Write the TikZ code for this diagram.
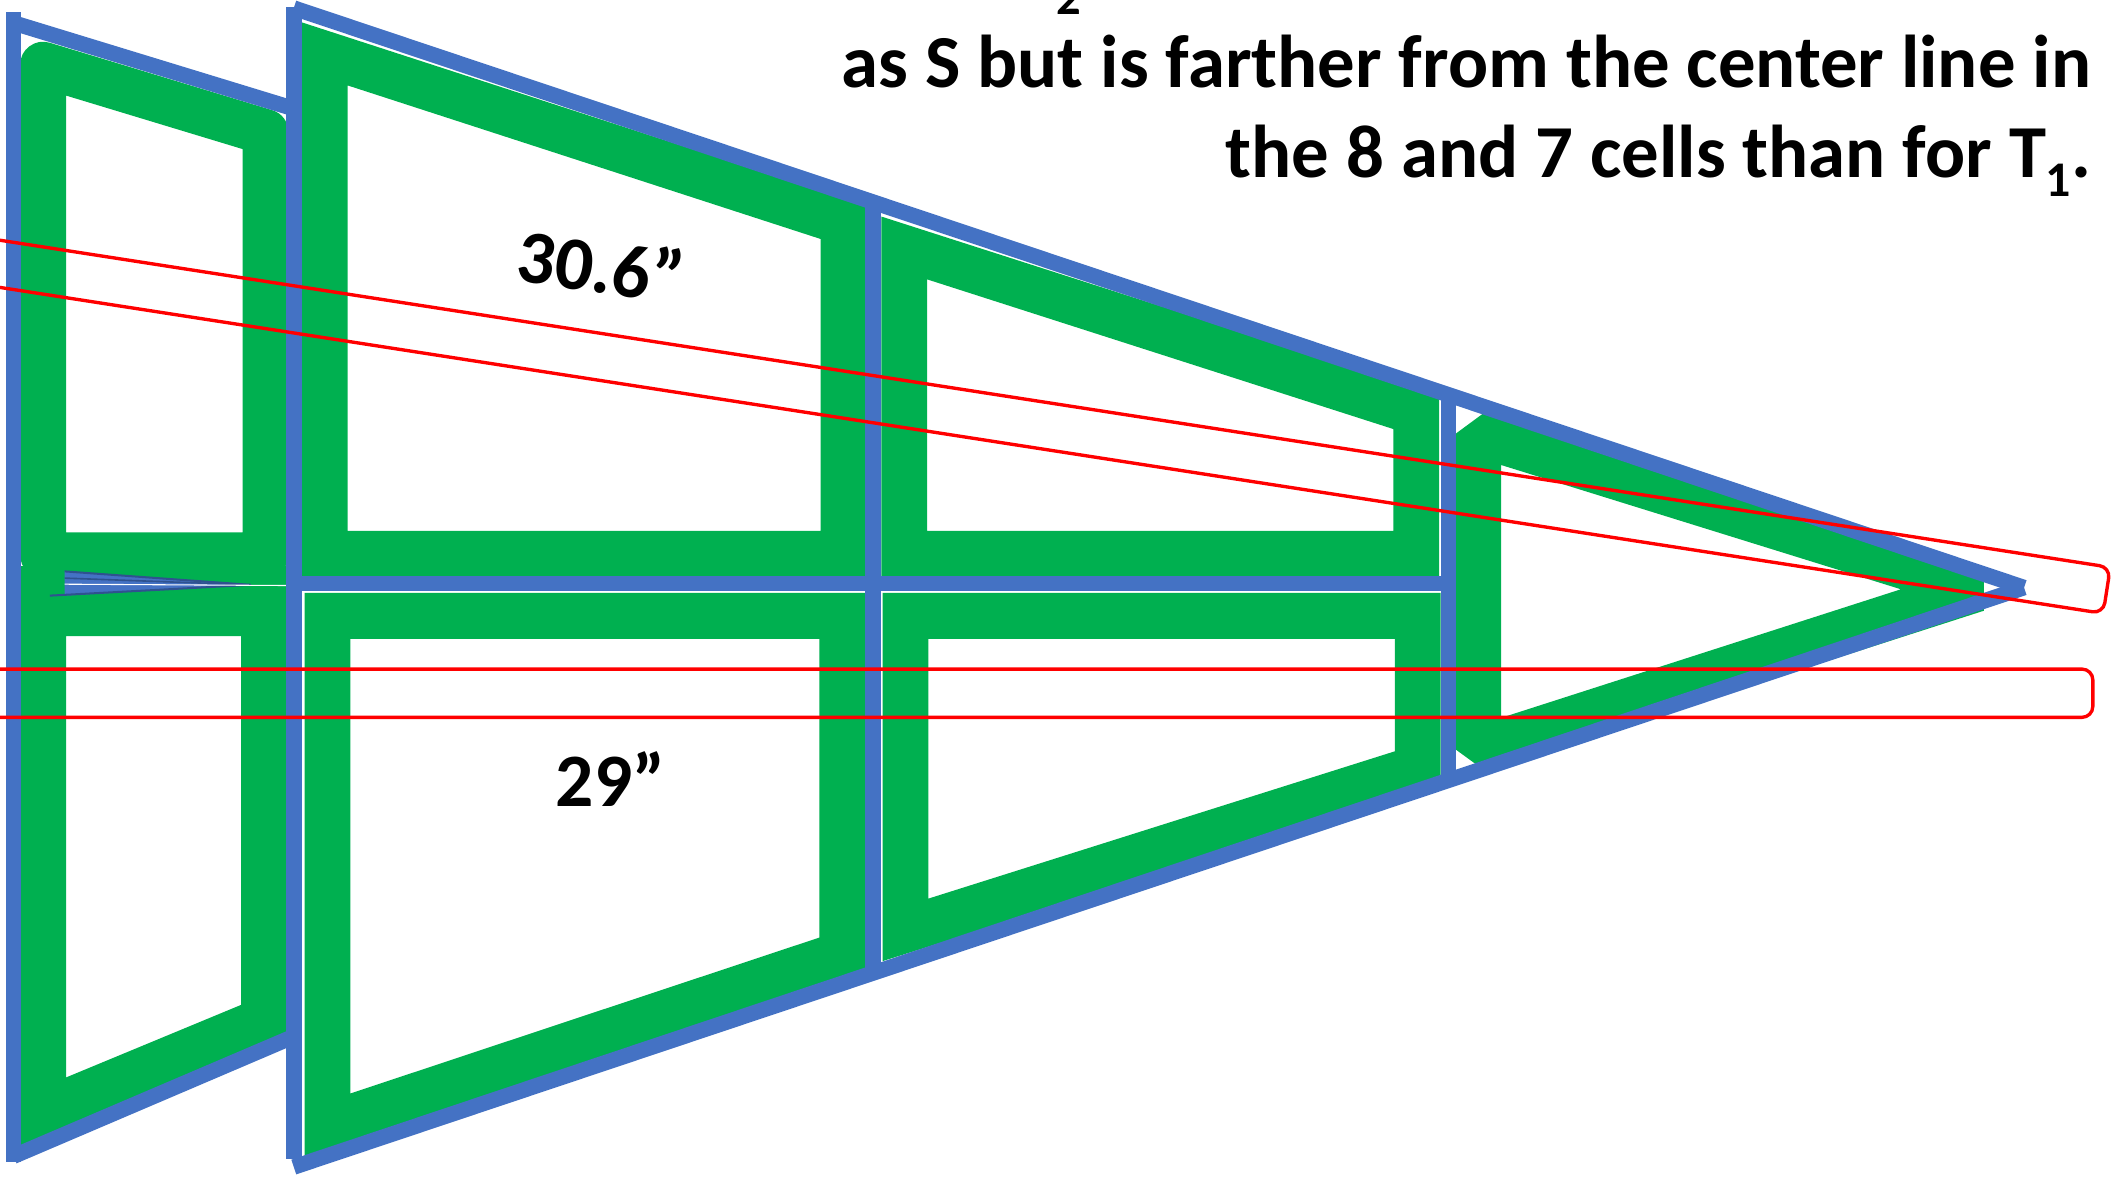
\documentclass[tikz,border=0pt]{standalone}
\usepackage{fontspec}
\setmainfont{Carlito}
\definecolor{frameblue}{HTML}{4472C4}
\definecolor{darkblue}{HTML}{2F528F}
\definecolor{cellgreen}{HTML}{00B050}
\begin{document}
\begin{tikzpicture}[x=1pt,y=-1pt,
  blueline/.style={draw=frameblue,line width=11.5pt},
  greenframe/.style={draw=cellgreen,line width=34pt,line join=miter},
  redbox/.style={draw=red,line width=2.5pt,rounded corners=8pt},
  lbl/.style={font=\fontsize{56}{60}\selectfont\bfseries,inner sep=0pt},
  note/.style={font=\fontsize{55.5}{68}\selectfont\bfseries,inner sep=0pt}]
\useasboundingbox (0,0) rectangle (1568,873);
\fill[white] (0,0) rectangle (1568,873);

% green cell frames
\fill[cellgreen] (15,420) rectangle (214,446);
\draw[greenframe,line join=round] (32,48) -- (197,98) -- (197,412) -- (32,412) -- cycle;
\draw[greenframe] (32,455) -- (196,455) -- (196,757) -- (32,825) -- cycle;
\draw[greenframe] (241,40) -- (626,165) -- (626,411) -- (241,411) -- cycle;
\draw[greenframe] (243,457) -- (625,457) -- (625,708) -- (243,835) -- cycle;
\draw[greenframe] (671,184) -- (1051,306) -- (1051,411) -- (671,411) -- cycle;
\draw[greenframe] (672,457) -- (1052,457) -- (1052,570) -- (672,690) -- cycle;
\draw[greenframe,line join=bevel] (1097,322) -- (1467,437) -- (1097,556) -- cycle;

% blue wedge in the first cell
\fill[frameblue] (48,424) -- (186,434) -- (48,442) -- cycle;
\draw[darkblue,line width=1.5pt] (48,424) -- (186,434);
\draw[darkblue,line width=1.5pt] (37,442) -- (186,434);
\draw[darkblue,line width=1.2pt] (48,429) -- (186,434);
\draw[white,line width=0.8pt] (48,433.5) -- (215,434.5);

% blue outline
\draw[blueline] (10,9) -- (10,862);
\draw[blueline] (10,17) -- (216,80);
\draw[blueline] (10,858) -- (216,770);
\draw[blueline] (218,5) -- (218,860);
\draw[blueline] (218,6) -- (1502,436);
\draw[blueline] (218,866) -- (1502,436);
\draw[blueline] (218,433) -- (1075,433);
\draw[blueline] (648,150) -- (648,720);
\draw[blueline] (1075,293) -- (1075,580);

% red boxes
\draw[redbox] (-50,496.5) rectangle (1553,532.3);
\draw[redbox] (-114,160.6) -- (1566,421) -- (1560.7,455.2) -- (-119.3,194.8) -- cycle;

% texts
\node[lbl,rotate=-8] (lab30) at (446,197) {30.6”};
\node[lbl] (lab29) at (453,578) {29”};
\node[font=\fontsize{36}{36}\selectfont\bfseries,inner sep=0pt,anchor=base] (t2) at (793,11) {2};
\node[note,anchor=base east] (l2) at (1552,65) {as S but is farther from the center line in};
\node[note,anchor=base east] (l3) at (1552,132) {the 8 and 7 cells than for T\raisebox{-14pt}{\fontsize{37}{37}\selectfont 1}.};
\end{tikzpicture}
\end{document}
